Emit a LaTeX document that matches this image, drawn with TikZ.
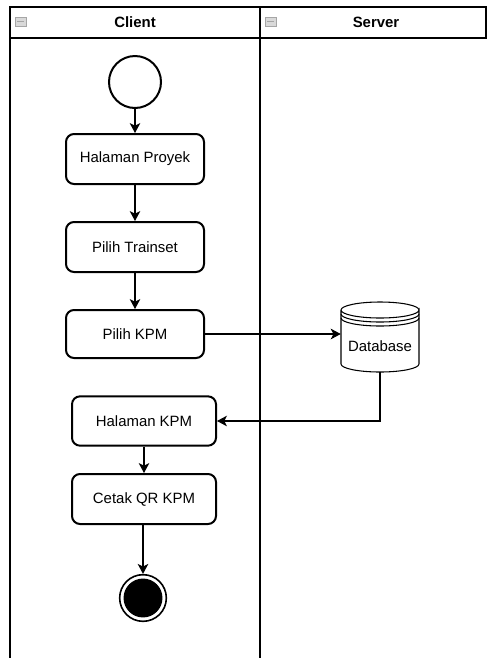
\documentclass[tikz,border=0pt]{standalone}
\usepackage{fontspec}
\setmainfont{Liberation Sans}
\usetikzlibrary{arrows.meta}

\begin{document}
\begin{tikzpicture}[x=0.75pt,y=-0.75pt,>={Stealth[length=7.5pt,width=8pt,inset=2pt]},
    font=\fontsize{11.2}{13}\selectfont,
    lane/.style={line width=1.1pt},
    act/.style={draw,line width=1.5pt,rounded corners=6pt,align=center},
    flow/.style={->,line width=0.8pt},
    icon/.style={draw=gray!70,fill=gray!30,line width=0.5pt}]
  \useasboundingbox (0,0) rectangle (487,658);
  % swimlanes
  \draw[lane] (10,658) -- (10,7) -- (486,7) -- (486,38) -- (10,38);
  \draw[lane] (260,7) -- (260,658);
  \node[font=\bfseries\fontsize{11.2}{13}\selectfont] (client) at (135,22) {Client};
  \node[font=\bfseries\fontsize{11.2}{13}\selectfont] (server) at (376,22) {Server};
  \foreach \ix in {15,265}
    \draw[icon] (\ix,17) rectangle ++(11,9) (\ix+2,21.5) -- ++(7,0);
  % start / end
  \node[draw,circle,line width=1.5pt,minimum size=39pt,inner sep=0pt] (start) at (135,82) {};
  \node[draw,circle,line width=1.2pt,minimum size=35pt,inner sep=0pt,
    path picture={\fill (path picture bounding box.center) circle (14.6pt);}] (stop) at (143,598) {};
  % activities
  \node[act,minimum width=103.5pt,minimum height=37.5pt] (proyek) at (135,159) {Halaman Proyek};
  \node[act,minimum width=103.5pt,minimum height=37.5pt] (trainset) at (135,247) {Pilih Trainset};
  \node[act,minimum width=103.5pt,minimum height=36pt] (pilihkpm) at (135,334) {Pilih KPM};
  \node[act,minimum width=108pt,minimum height=37pt] (halkpm) at (144,421) {Halaman KPM};
  \node[act,minimum width=108pt,minimum height=37.5pt] (cetak) at (144,499) {Cetak QR KPM};
  % database (datastore)
  \node[minimum width=58.5pt,minimum height=52.5pt,inner sep=0pt] (db) at (380,337) {};
  \node (dblabel) at (380,346) {Database};
  \draw[line width=0.8pt] (341,310) -- (341,364) arc[start angle=180,end angle=0,x radius=39,y radius=8]
    -- (419,310) arc[start angle=0,end angle=360,x radius=39,y radius=8];
  \draw[line width=0.8pt] (341,314) arc[start angle=180,end angle=0,x radius=39,y radius=8];
  \draw[line width=0.8pt] (341,318) arc[start angle=180,end angle=0,x radius=39,y radius=8];
  % flows
  \draw[flow] (start) -- (proyek);
  \draw[flow] (proyek) -- (trainset);
  \draw[flow] (trainset) -- (pilihkpm);
  \draw[flow] (pilihkpm.east) -- (pilihkpm.east -| db.west);
  \draw[flow] (db.south) |- (halkpm.east);
  \draw[flow] (halkpm) -- (cetak);
  \draw[flow] (cetak.south -| stop) -- (stop);
\end{tikzpicture}
\end{document}
